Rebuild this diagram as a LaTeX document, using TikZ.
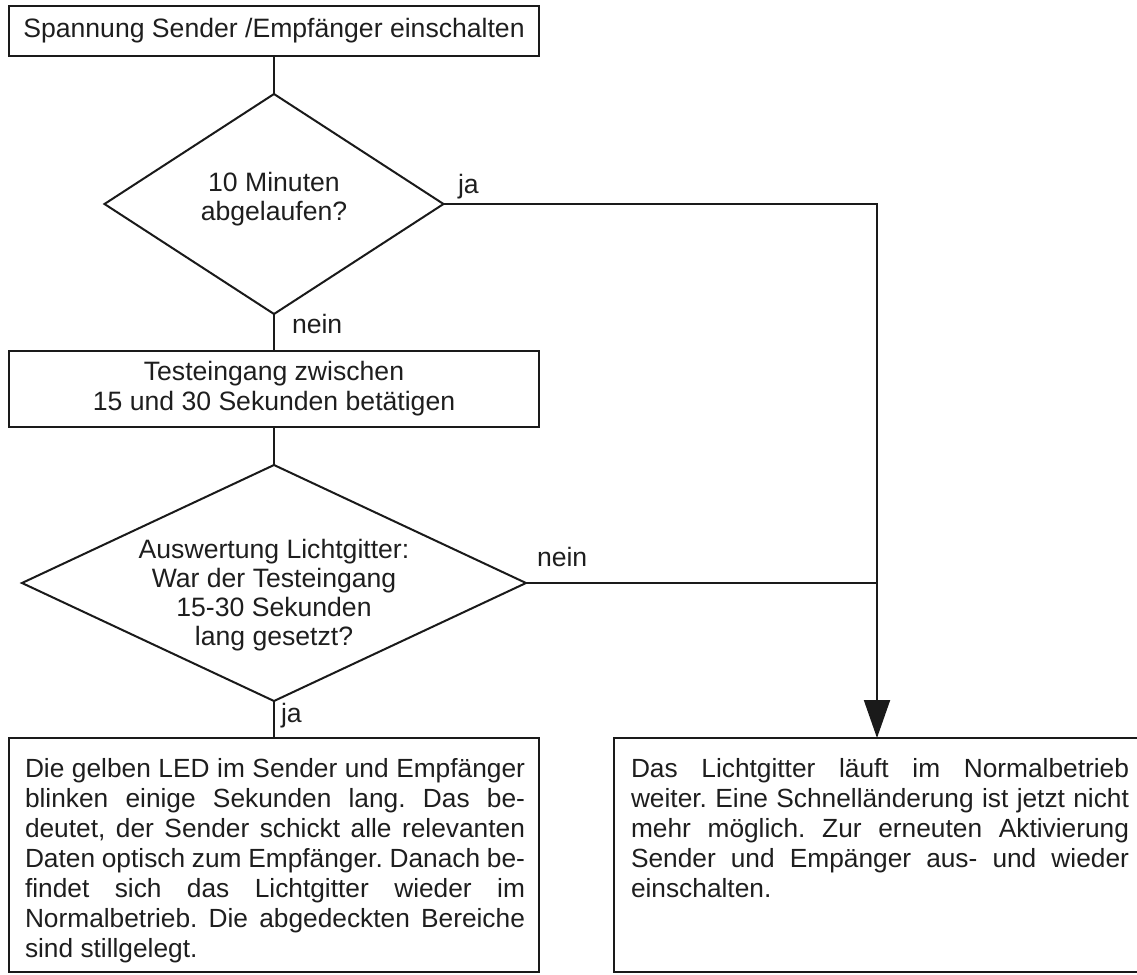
\documentclass[tikz,border=0pt]{standalone}
\usepackage{fontspec}
\setmainfont{Liberation Sans}
\usetikzlibrary{arrows.meta,shapes.geometric}
\definecolor{linec}{HTML}{1A1A1A}
\definecolor{textc}{HTML}{1E1E1E}
\newcommand\fullline[2]{\makebox[#1][s]{#2}}
\begin{document}
\frenchspacing
\begin{tikzpicture}[x=1pt,y=-1pt,
  every node/.style={inner sep=0pt, outer sep=0pt},
  box/.style={draw=linec, line width=2pt, rectangle, text=textc,
    font=\fontsize{26.6}{29.5}\selectfont, align=center},
  dia/.style={draw=linec, line width=2pt, diamond},
  conn/.style={draw=linec, line width=2pt},
  txt/.style={text=textc, font=\fontsize{26.6}{29}\selectfont, align=center},
  lbl/.style={text=textc, font=\fontsize{26.6}{29.5}\selectfont, anchor=base west},
  body/.style={text=textc, font=\fontsize{26.3}{30}\selectfont, align=left, anchor=north west}
]
\useasboundingbox (0,0) rectangle (1137,974);

% boxes
\node[box, minimum width=530pt, minimum height=50pt] (start) at (274,31)
  {Spannung Sender /Empfänger einschalten};
\node[box, minimum width=530pt, minimum height=76pt] (test) at (274,388.5)
  {Testeingang zwischen\\15 und 30 Sekunden betätigen};
\node[box, minimum width=530pt, minimum height=234pt] (left) at (274,855) {};
\node[box, minimum width=526pt, minimum height=234pt] (right) at (877,855) {};

% diamonds
\node[dia, minimum width=339pt, minimum height=220pt] (d1) at (274,204) {};
\node[txt] (d1t) at (274,199) {10 Minuten\\abgelaufen?};
\node[dia, minimum width=504pt, minimum height=236pt] (d2) at (274,583) {};
\node[txt] (d2t) at (274,595) {Auswertung Lichtgitter:\\War der Testeingang\\15-30 Sekunden\\lang gesetzt?};

% body texts
\node[body] (lefttext) at (25,758) {%
\fullline{500pt}{Die gelben LED im Sender und Empfänger}\\
\fullline{500pt}{blinken einige Sekunden lang. Das be-}\\
\fullline{500pt}{deutet, der Sender schickt alle relevanten}\\
\fullline{500pt}{Daten optisch zum Empfänger. Danach be-}\\
\fullline{500pt}{findet sich das Lichtgitter wieder im}\\
\fullline{500pt}{Normalbetrieb. Die abgedeckten Bereiche}\\
sind stillgelegt.};
\node[body] (righttext) at (631,758) {%
\fullline{498pt}{Das Lichtgitter läuft im Normalbetrieb}\\
\fullline{498pt}{weiter. Eine Schnelländerung ist jetzt nicht}\\
\fullline{498pt}{mehr möglich. Zur erneuten Aktivierung}\\
\fullline{498pt}{Sender und Empänger aus- und wieder}\\
einschalten.};

% connectors
\draw[conn] (start.south) -- (d1.north);
\draw[conn] (d1.south) -- (test.north);
\draw[conn] (test.south) -- (d2.north);
\draw[conn] (d2.south) -- (left.north);
\draw[conn, -{Triangle[length=38pt,width=26pt]}] (d1.east) -| (right.north);
\coordinate (join) at (d2.east -| right.north);
\draw[conn] (d2.east) -- (join);

% labels
\node[lbl] (ja1) at (458,193) {ja};
\node[lbl] (nein1) at (292,333) {nein};
\node[lbl] (nein2) at (537,566) {nein};
\node[lbl] (ja2) at (281,722) {ja};
\end{tikzpicture}
\end{document}
